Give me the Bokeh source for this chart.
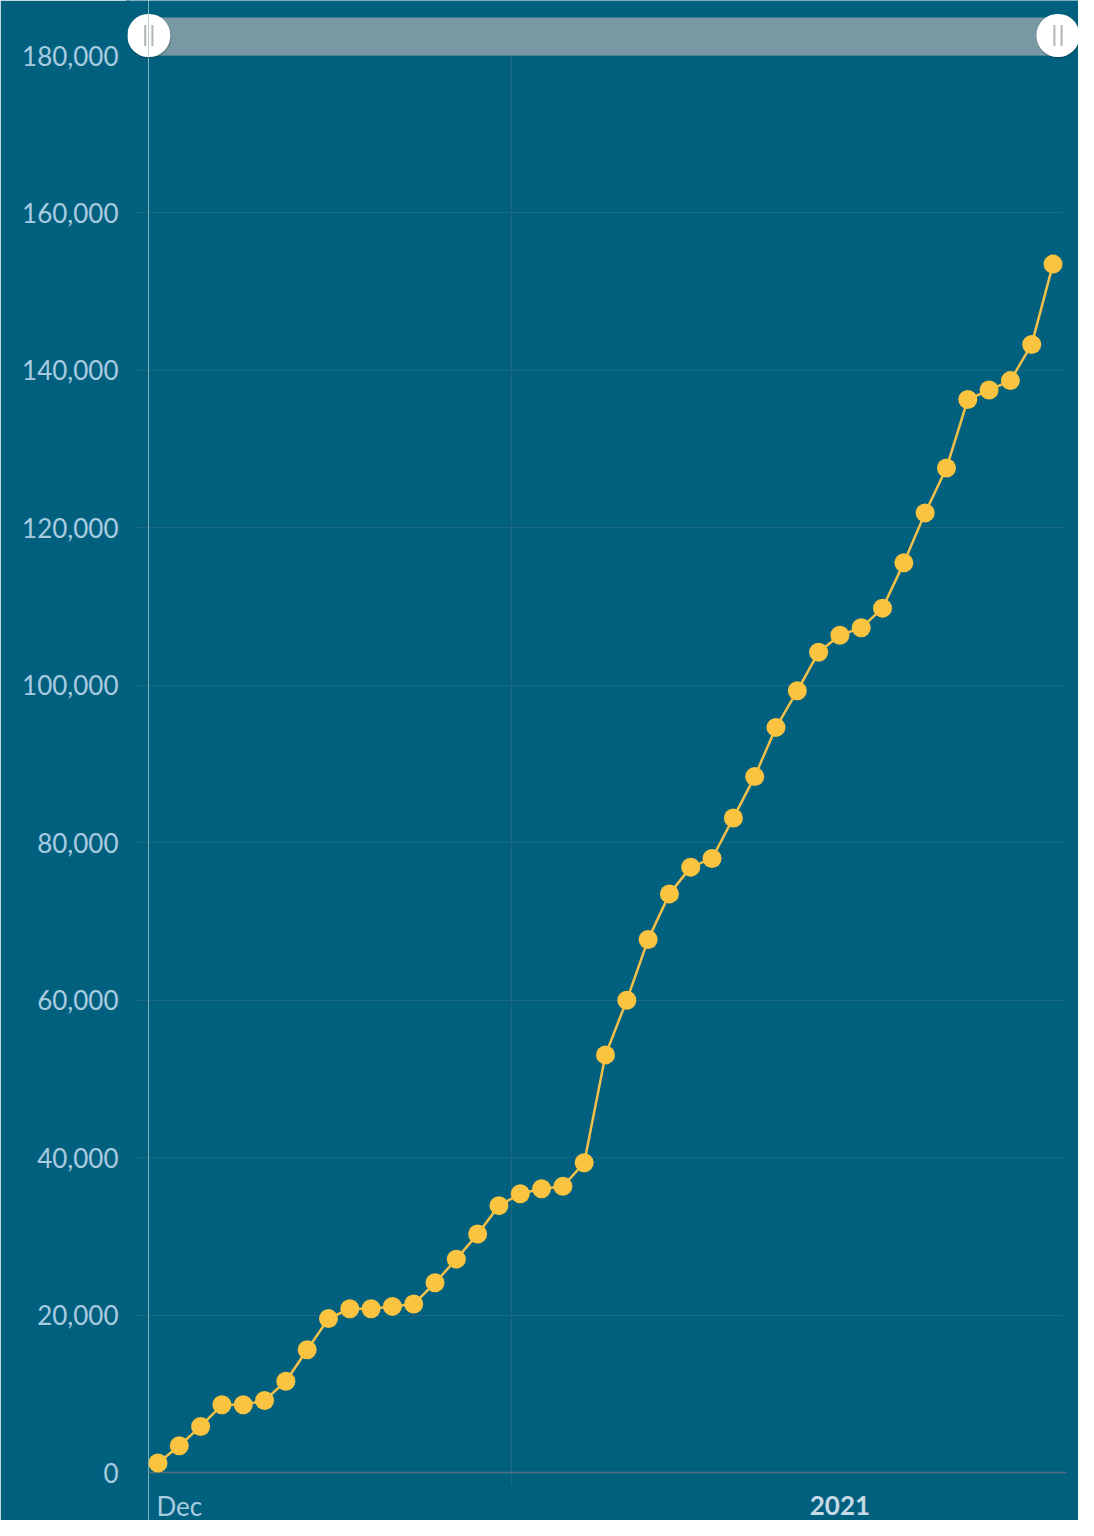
import pandas as pd
from bokeh.plotting import figure
from bokeh.layouts import row
from bokeh.models import (FixedTicker, NumeralTickFormatter, BoxAnnotation, Grid,
                          Range1d, ColumnDataSource)
from bokeh.core.properties import value
from bokeh.embed import file_html
from bokeh.resources import INLINE

# ---------------- data ----------------
dates = [
    "2020-11-30", "2020-12-01", "2020-12-02", "2020-12-03", "2020-12-04", "2020-12-05",
    "2020-12-06", "2020-12-07", "2020-12-08", "2020-12-09", "2020-12-10", "2020-12-11",
    "2020-12-12", "2020-12-13", "2020-12-14", "2020-12-15", "2020-12-16", "2020-12-17",
    "2020-12-18", "2020-12-19", "2020-12-20", "2020-12-21", "2020-12-22", "2020-12-23",
    "2020-12-24", "2020-12-25", "2020-12-26", "2020-12-27", "2020-12-28", "2020-12-29",
    "2020-12-30", "2020-12-31", "2021-01-01", "2021-01-02", "2021-01-03", "2021-01-04",
    "2021-01-05", "2021-01-06", "2021-01-07", "2021-01-08", "2021-01-09", "2021-01-10",
    "2021-01-11",
]
values = [
    1200, 3400, 5850, 8600, 8600, 9150,
    11600, 15600, 19550, 20800, 20800, 21100,
    21400, 24100, 27100, 30300, 33900, 35400,
    36050, 36350, 39350, 53050, 60000, 67700,
    73500, 76900, 78000, 83150, 88400, 94650,
    99300, 104200, 106350, 107300, 109800, 115550,
    121900, 127600, 136300, 137500, 138700, 143300,
    153500,
]
y_ticks = [0, 20000, 40000, 60000, 80000, 100000, 120000, 140000, 160000, 180000]
x_tick_dates = ["2020-12-01", "2021-01-01"]
x_tick_labels = ["Dec", "2021"]
x_tick_weights = ["normal", "bold"]
x_tick_colors = ["#a9cbe0", "#c6dae7"]
grid_date = "2020-12-16 14:00"

# ---------------- style / layout ----------------
BG = "#02607f"
LABEL = "#a9cbe0"
GRID = "#1d6882"
AXIS = "#4e6f7d"
LINE = "#f3c14a"
MARK = "#fbc440"
BAR = "#7899a3"
FONT = "Lato"

W, H = 1078, 1520
AX_W = 148                      # width of the axis strip (page px of the y axis)
LEFT_FL = 127                   # frame left inside the axis strip
PLOT_L, PLOT_R = 148, 1062      # plot area (page px)
Y0_PX, YMAX_PX = 1472, 55       # page px of value 0 and of the top tick
FIRST_PX, STEP_PX = 157.5, 21.31
DAY = 86400000.0


def ms(s):
    return pd.Timestamp(s).value / 1e6


t0 = ms(dates[0])
x0 = t0 - (FIRST_PX - AX_W) / STEP_PX * DAY
x1 = t0 + (W - FIRST_PX) / STEP_PX * DAY
ppu = (Y0_PX - YMAX_PX) / y_ticks[-1]
y0 = -(H - Y0_PX) / ppu
y1 = y_ticks[-1] + YMAX_PX / ppu
yr = Range1d(y0, y1)


def main_x(px):
    return x0 + (px - AX_W) / (W - AX_W) * (x1 - x0)


def left_x(px):
    return px


def py(pyx):
    return y0 + (H - pyx) / H * (y1 - y0)


def style(fig):
    fig.background_fill_color = BG
    fig.border_fill_color = BG
    fig.outline_line_color = None
    fig.grid.visible = False


# ---------- axis strip (y labels) ----------
pl = figure(width=AX_W, height=H, x_axis_location=None, output_backend="svg",
            toolbar_location=None, x_range=Range1d(LEFT_FL, AX_W), y_range=yr,
            min_border_left=LEFT_FL, min_border_right=0, min_border_top=0,
            min_border_bottom=0)
style(pl)
ya = pl.yaxis[0]
ya.ticker = FixedTicker(ticks=y_ticks)
ya.formatter = NumeralTickFormatter(format="0,0")
ya.major_label_text_font = FONT
ya.major_label_text_font_size = "26px"
ya.major_label_text_color = LABEL
ya.major_tick_in = 0
ya.major_tick_out = 0
ya.minor_tick_in = 0
ya.minor_tick_out = 0
ya.major_label_standoff = LEFT_FL - 118
ya.axis_line_color = BG          # hides the frame seam of the strip
ya.axis_line_width = 3
pl.add_layout(Grid(dimension=1, ticker=FixedTicker(ticks=y_ticks[1:]),
                   grid_line_color=GRID, grid_line_width=1,
                   cross_bounds=(135, AX_W)))
# y axis line (right edge of the strip)
pl.add_layout(Grid(dimension=0, ticker=FixedTicker(ticks=[AX_W]),
                   grid_line_color=AXIS, grid_line_width=3))

# ---------- main plot ----------
src = ColumnDataSource(data=dict(x=pd.to_datetime(dates), y=values))
lab_src = ColumnDataSource(data=dict(x=pd.to_datetime(x_tick_dates),
                                     y=[py(1505)] * len(x_tick_dates),
                                     text=x_tick_labels, weight=x_tick_weights,
                                     color=x_tick_colors))

p = figure(width=W - AX_W, height=H, x_axis_type="datetime", x_axis_location=None,
           y_axis_location=None, output_backend="svg", toolbar_location=None,
           x_range=Range1d(x0, x1), y_range=yr,
           min_border_left=0, min_border_right=0, min_border_top=0, min_border_bottom=0)
style(p)

# y axis line (left edge of the plot)
p.add_layout(Grid(dimension=0, ticker=FixedTicker(ticks=[x0]),
                  grid_line_color=AXIS, grid_line_width=3))
p.add_layout(Grid(dimension=1, ticker=FixedTicker(ticks=y_ticks[1:]),
                  grid_line_color=GRID, grid_line_width=1,
                  cross_bounds=(x0, main_x(PLOT_R))))
p.add_layout(Grid(dimension=0, ticker=FixedTicker(ticks=[ms(grid_date)]),
                  grid_line_color=GRID, grid_line_width=1.2,
                  cross_bounds=(py(1485), py(YMAX_PX))))
# x axis line
p.add_layout(Grid(dimension=1, ticker=FixedTicker(ticks=[0]),
                  grid_line_color=AXIS, grid_line_width=1.5,
                  cross_bounds=(x0, main_x(PLOT_R + 4))))

# series
p.line("x", "y", source=src, line_color=LINE, line_width=2.5)
p.scatter("x", "y", source=src, size=19, fill_color=MARK, line_color=None)

# date labels
p.text("x", "y", text="text", source=lab_src, text_font=value(FONT),
       text_font_size="26px", text_font_style="weight", text_color="color",
       text_align="center", text_baseline="middle")


# ---------- scrollbar decoration (range selector) ----------
def add_scrollbar(fig, fx):
    def box(l, r, t, b, color, alpha=1.0, radius=0):
        fig.add_layout(BoxAnnotation(left=fx(l), right=fx(r), top=py(t), bottom=py(b),
                                     fill_color=color, fill_alpha=alpha, line_color=None,
                                     border_radius=int(radius), level="overlay"))
    box(PLOT_L, PLOT_R - 4, 17, 55, BAR)
    for cx in (PLOT_L + 0.3, PLOT_R - 4.5):
        cy = 35
        box(cx - 21.5, cx + 22.5, cy - 20.5, cy + 23.5, "#000000", 0.16, 22)
        box(cx - 21.5, cx + 21.5, cy - 21.5, cy + 21.5, "#ffffff", 1.0, 21)
        for dx in (-3.6, 3.6):
            box(cx + dx - 1, cx + dx + 1, cy - 10.5, cy + 10.5, "#b3b3b3")


add_scrollbar(pl, left_x)
add_scrollbar(p, main_x)

layout = row(pl, p, spacing=0)
open("out.html", "w").write(file_html(layout, INLINE))
